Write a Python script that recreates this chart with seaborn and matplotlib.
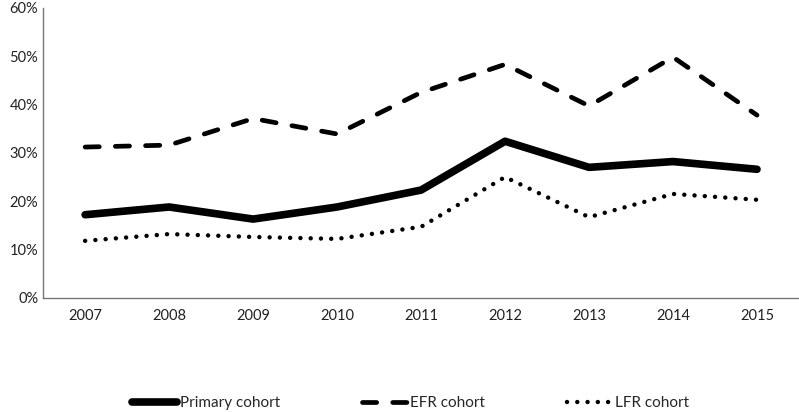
import pandas as pd
import matplotlib
matplotlib.use("Agg")
import matplotlib.pyplot as plt
import seaborn as sns

years = ["2007", "2008", "2009", "2010", "2011", "2012", "2013", "2014", "2015"]
primary = [17.2, 18.8, 16.3, 18.8, 22.3, 32.4, 27.0, 28.2, 26.6]
efr = [31.2, 31.6, 37.1, 33.9, 42.5, 48.3, 39.7, 49.8, 37.8]
lfr = [11.8, 13.2, 12.6, 12.2, 14.7, 25.0, 16.7, 21.5, 20.3]
cohorts = ["Primary cohort", "EFR cohort", "LFR cohort"]

rows = []
for name, vals in zip(cohorts, [primary, efr, lfr]):
    for y, v in zip(years, vals):
        rows.append({"Year": y, "Value": v, "Cohort": name})
data = pd.DataFrame(rows)

sns.set_style("white")
plt.rcParams["font.family"] = ["Lato", "DejaVu Sans"]

fig = plt.figure(figsize=(7.99, 4.12), dpi=100)
ax = fig.add_axes([0.054, 0.277, 0.946, 0.704])

# dash pattern (in linewidth units) and line width per cohort
styles = {"Primary cohort": (None, 5.5), "EFR cohort": ((3.0, 3.4), 3.4), "LFR cohort": ((0.01, 2.3), 3.2)}
for name in cohorts:
    d = data[data.Cohort == name]
    dash, lw = styles[name]
    sns.lineplot(data=d, x="Year", y="Value", ax=ax, color="black", lw=lw, label=name)
    l = ax.lines[-1]
    if dash is not None:
        l.set_dashes(dash)
        l.set_dash_capstyle("round")
    l.set_solid_capstyle("round")

ax.set_xlim(-0.5, 8.5)
ax.set_ylim(0, 60)
ax.set_yticks(range(0, 61, 10))
ax.set_yticklabels([f"{t}%" for t in range(0, 61, 10)])
ax.set_xlabel("")
ax.set_ylabel("")
ax.tick_params(axis="both", labelsize=10.5, colors="#222222", length=0)
ax.tick_params(axis="x", pad=8)
for s in ["top", "right"]:
    ax.spines[s].set_visible(False)
for s in ["left", "bottom"]:
    ax.spines[s].set_color("#777777")
    ax.spines[s].set_linewidth(1.0)

leg = ax.legend(loc="center", bbox_to_anchor=(0.486, -0.362), ncol=3, frameon=False,
                fontsize=11, handlelength=2.9, handletextpad=0.2, columnspacing=5.4)

fig.savefig("out.png", dpi=100)
